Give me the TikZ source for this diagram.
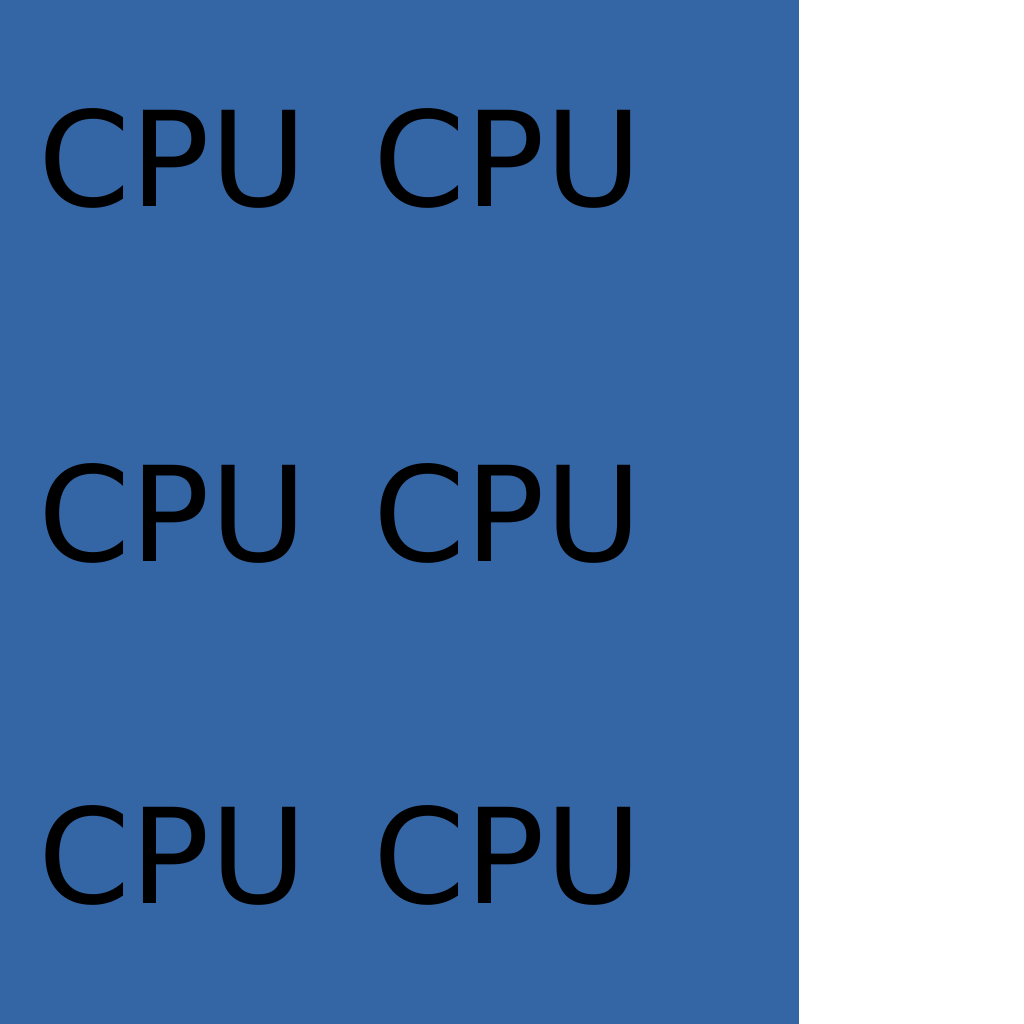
\documentclass[tikz,border=0pt]{standalone}
\usepackage{fontspec}
\setmainfont{DejaVu Sans}
\usepackage{tikz}
\usetikzlibrary{positioning}
\definecolor{cpublue}{HTML}{3465A4}
\tikzset{
board/.style={x=1pt,y=-1pt},
cpu/.style={anchor=base west,inner sep=0pt,font=\fontsize{132}{150}\selectfont,text=black},
}

\begin{document}
\begin{tikzpicture}[board]
                    \useasboundingbox (0,0) rectangle (1024,1024);
                    \fill[cpublue] (0,0) rectangle (799,1024);
                    \node[cpu] (c11) at (38.3,207) {CPU};
                    \node[cpu] (c12) at (373.3,207) {CPU};
                    \node[cpu] (c21) at (38.3,561) {CPU};
                    \node[cpu] (c22) at (373.3,561) {CPU};
                    \node[cpu] (c31) at (38.3,903) {CPU};
                    \node[cpu] (c32) at (373.3,903) {CPU};
                \end{tikzpicture}
\end{document}
